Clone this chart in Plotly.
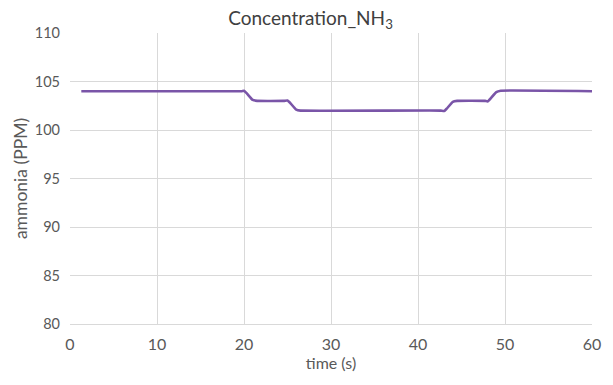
import plotly.graph_objects as go

time_s = [1.3, 19.7, 20.0, 20.3, 21.0, 21.5, 24.6, 25.0, 25.3, 26.0, 26.5, 42.6, 43.0, 43.3, 44.0, 44.5, 47.7, 48.0, 48.3, 49.0, 49.5, 60.0]
ammonia_ppm = [104.0, 104.0, 104.05, 103.8, 103.1, 103.0, 103.0, 103.05, 102.8, 102.1, 102.0, 102.0, 101.95, 102.2, 102.9, 103.0, 103.0, 102.95, 103.2, 103.9, 104.05, 104.0]

x_ticks = [0, 10, 20, 30, 40, 50, 60]
y_ticks = [80, 85, 90, 95, 100, 105, 110]

fig = go.Figure()
fig.add_trace(go.Scatter(
    x=time_s, y=ammonia_ppm, mode="lines",
    line=dict(color="#7A55A8", width=2.6, shape="spline", smoothing=0.3),
    showlegend=False,
))

font_family = "Lato, Open Sans, sans-serif"
fig.update_layout(
    width=605, height=377,
    margin=dict(l=62, r=16, t=25, b=61),
    paper_bgcolor="white", plot_bgcolor="white",
    font=dict(family=font_family, color="#595959", size=13),
    title=dict(text="Concentration_NH<sub>3</sub>", x=0.5, xanchor="center",
               yref="container", y=0.972, yanchor="middle",
               font=dict(size=19, color="#404040")),
)
fig.update_xaxes(
    range=[0, 60], tickvals=x_ticks, showgrid=True, gridcolor="#D9D9D9", gridwidth=1,
    zeroline=False, showline=True, linecolor="#D9D9D9", ticks="", tickfont=dict(size=16),
    ticklabelstandoff=6,
    title=dict(text="time (s)", font=dict(size=16), standoff=4),
)
fig.update_yaxes(
    range=[80, 110], tickvals=y_ticks, showgrid=True, gridcolor="#D9D9D9", gridwidth=1,
    zeroline=False, showline=False, ticks="", tickfont=dict(size=14.5),
    ticklabelstandoff=9,
    title=dict(text="ammonia (PPM)", font=dict(size=17.5), standoff=2),
)
fig.write_html("out.html")
